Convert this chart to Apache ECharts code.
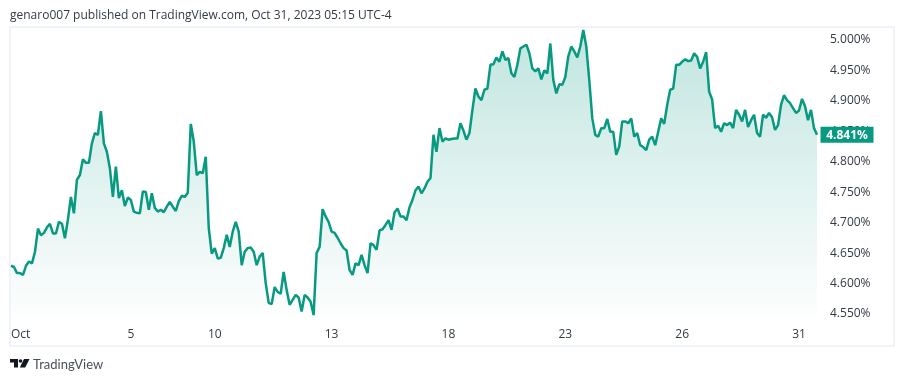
<!DOCTYPE html>
<html>
<head>
<meta charset="utf-8">
<style>html,body{margin:0;padding:0;background:#fff}#c{width:904px;height:382px}</style>
<script src="https://cdn.jsdelivr.net/npm/echarts@6/dist/echarts.min.js"></script>
</head>
<body>
<div id="c"></div>
<script>
const yields = [
4.626,4.624,4.614,4.614,4.611,4.626,4.633,4.630,4.649,4.687,4.676,4.680,4.689,4.695,4.679,4.679,4.698,4.695,4.671,4.702,
4.739,4.712,4.767,4.775,4.801,4.795,4.795,4.827,4.844,4.841,4.880,4.827,4.813,4.786,4.739,4.789,4.737,4.750,4.724,4.738,
4.734,4.715,4.713,4.712,4.748,4.747,4.718,4.745,4.721,4.715,4.718,4.714,4.723,4.731,4.723,4.716,4.732,4.741,4.739,4.746,
4.859,4.830,4.775,4.780,4.778,4.805,4.688,4.646,4.655,4.638,4.639,4.655,4.677,4.657,4.682,4.698,4.682,4.627,4.649,4.655,
4.656,4.649,4.627,4.641,4.647,4.598,4.565,4.563,4.591,4.583,4.580,4.616,4.586,4.562,4.570,4.578,4.574,4.551,4.578,4.574,
4.567,4.545,4.647,4.657,4.719,4.707,4.698,4.682,4.680,4.672,4.663,4.655,4.651,4.619,4.611,4.630,4.627,4.644,4.627,4.614,
4.663,4.660,4.652,4.684,4.686,4.693,4.701,4.685,4.714,4.720,4.707,4.707,4.701,4.722,4.734,4.750,4.756,4.745,4.753,4.764,
4.770,4.841,4.813,4.852,4.830,4.835,4.833,4.834,4.835,4.835,4.860,4.848,4.833,4.844,4.882,4.917,4.904,4.898,4.915,4.917,
4.956,4.957,4.968,4.961,4.978,4.964,4.967,4.942,4.936,4.956,4.983,4.986,4.989,4.975,4.950,4.945,4.950,4.932,4.947,4.942,
4.991,4.931,4.909,4.924,4.923,4.936,4.970,4.986,4.978,4.968,4.986,5.013,4.986,4.931,4.868,4.841,4.838,4.852,4.852,4.867,
4.846,4.846,4.808,4.822,4.863,4.863,4.860,4.868,4.838,4.844,4.824,4.821,4.816,4.833,4.838,4.824,4.846,4.868,4.859,4.890,
4.915,4.917,4.956,4.956,4.961,4.965,4.962,4.963,4.975,4.969,4.950,4.961,4.977,4.912,4.899,4.852,4.856,4.846,4.860,4.857,
4.861,4.852,4.882,4.874,4.863,4.882,4.854,4.865,4.874,4.844,4.838,4.874,4.869,4.877,4.870,4.849,4.857,4.890,4.906,4.898,
4.893,4.885,4.877,4.881,4.900,4.888,4.865,4.882,4.852,4.841
];
const dateLabelSlots = [0, 40, 68, 107, 146, 185, 224, 263];
const dateLabelTexts = ['Oct', '5', '10', '13', '18', '23', '26', '31'];
const yTicks = [4.55, 4.6, 4.65, 4.7, 4.75, 4.8, 4.85, 4.9, 4.95, 5.0];
const lastValue = 4.841;
const titleText = 'genaro007 published on TradingView.com, Oct 31, 2023 05:15 UTC-4';

const categories = yields.map((_, i) => {
  const k = dateLabelSlots.indexOf(i);
  return k >= 0 ? dateLabelTexts[k] : '';
});
const font = '"Open Sans", sans-serif';
const chart = echarts.init(document.getElementById('c'), null, {renderer: 'canvas'});
chart.setOption({
  animation: false,
  backgroundColor: '#ffffff',
  grid: {left: 11, width: 806, top: 7.55, height: 334.95, containLabel: false},
  xAxis: {
    type: 'category', data: categories, boundaryGap: false,
    axisLine: {show: false}, axisTick: {show: false}, splitLine: {show: false},
    axisLabel: {
      inside: true, margin: 2, color: '#333a45', fontFamily: font, fontSize: 12,
      hideOverlap: false, alignMinLabel: 'left',
      interval: (i) => dateLabelSlots.indexOf(i) >= 0
    }
  },
  yAxis: {
    type: 'value', position: 'right', min: 4.5, max: 5.05, interval: 0.05, scale: true,
    axisLine: {show: false}, axisTick: {show: false}, splitLine: {show: false},
    axisLabel: {
      customValues: yTicks, margin: 13, color: '#333a45', fontFamily: font, fontSize: 12,
      verticalAlign: 'top', lineHeight: 4,
      formatter: (v) => v.toFixed(3) + '%'
    }
  },
  series: [{
    type: 'line', data: yields, showSymbol: false, symbol: 'none', smooth: false, clip: false,
    lineStyle: {color: '#089981', width: 2.5},
    areaStyle: {
      color: new echarts.graphic.LinearGradient(0, 0, 0, 1, [
        {offset: 0, color: 'rgba(8,153,129,0.36)'},
        {offset: 0.945, color: 'rgba(8,153,129,0)'},
        {offset: 1, color: 'rgba(8,153,129,0)'}
      ])
    },
    markPoint: {
      silent: true, z: 20, animation: false,
      data: [{
        coord: [yields.length - 1, lastValue],
        symbol: 'rect', symbolSize: [53, 16], symbolOffset: [30, 0],
        itemStyle: {color: '#089981'},
        label: {show: true, position: 'inside', offset: [0, 1], formatter: lastValue.toFixed(3) + '%',
          color: '#ffffff', fontFamily: font, fontSize: 12, fontWeight: 'bold'}
      }]
    }
  }],
  graphic: [
    {type: 'rect', z: 0, shape: {x: 10, y: 27, width: 884, height: 319}, style: {fill: 'none', stroke: '#f0f3fa', lineWidth: 2}},
    {type: 'text', x: 10, y: 10, style: {text: titleText, fill: '#333a45', font: '12px ' + font}},
    {type: 'polygon', shape: {points: [[10,359],[18,359],[18,367.5],[14,367.5],[14,362.5],[10,362.5]]}, style: {fill: '#131722'}},
    {type: 'circle', shape: {cx: 20.5, cy: 361, r: 1.8}, style: {fill: '#131722'}},
    {type: 'polygon', shape: {points: [[24,359],[29.5,359],[25.2,367.5],[19.8,367.5]]}, style: {fill: '#131722'}},
    {type: 'text', x: 33, y: 358, style: {text: 'TradingView', fill: '#4a4f5a', font: '13px Lato, ' + font}}
  ]
});
</script>
</body>
</html>
